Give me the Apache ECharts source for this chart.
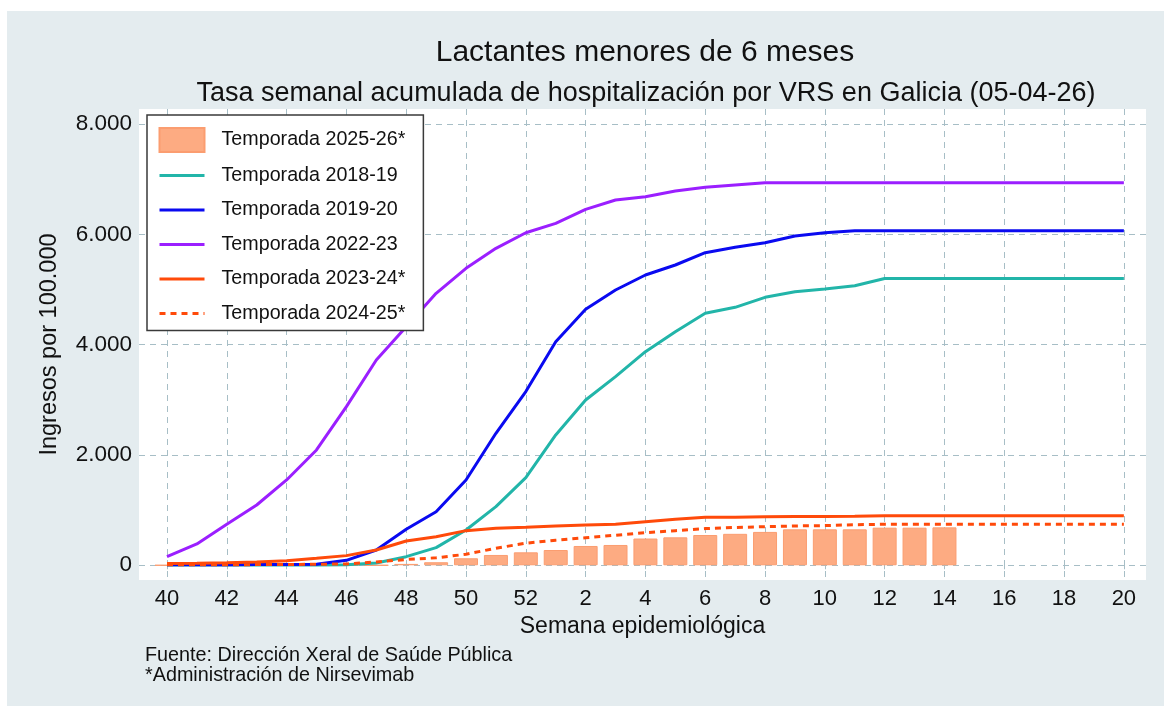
<!DOCTYPE html>
<html>
<head>
<meta charset="utf-8">
<title>Tasa semanal acumulada de hospitalización por VRS</title>
<script src="https://cdn.jsdelivr.net/npm/echarts@6/dist/echarts.min.js"></script>
<style>
  html, body { margin: 0; padding: 0; background: #fff; }
  #chart { width: 1164px; height: 706px; }
</style>
</head>
<body>
<div id="chart"></div>
<script>
// semanas epidemiológicas (40 a 52 y 1 a 20)
const semanas = [40, 41, 42, 43, 44, 45, 46, 47, 48, 49, 50, 51, 52,
  1, 2, 3, 4, 5, 6, 7, 8, 9, 10, 11, 12, 13, 14, 15, 16, 17, 18, 19, 20]
// marcas del eje x (una de cada dos semanas)
const etiquetasX = [40, 42, 44, 46, 48, 50, 52, 2, 4, 6, 8, 10, 12, 14, 16, 18, 20]
const etiquetasY = [0, 2000, 4000, 6000, 8000]

// tasas acumuladas por temporada
const t2526 = [0, 0, 0, 0, 0, 0, 0, 0, 25, 55, 127, 187, 235, 277, 350, 368, 485, 507, 549, 570,
  605, 652, 652, 652, 682, 682, 688, null, null, null, null, null, null]
const t1819 = [5, 5, 5, 5, 5, 5, 10, 40, 156, 320, 640, 1063, 1590, 2363, 2997, 3420, 3873, 4236,
  4569, 4678, 4859, 4961, 5010, 5070, 5200, 5200, 5200, 5200, 5200, 5200, 5200, 5200, 5200]
const t1920 = [10, 10, 10, 12, 15, 20, 90, 277, 652, 972, 1547, 2393, 3150, 4055, 4642, 4992,
  5264, 5445, 5668, 5766, 5850, 5971, 6031, 6067, 6067, 6067, 6067, 6067, 6067, 6067, 6067, 6067, 6067]
const t2223 = [156, 386, 743, 1093, 1547, 2091, 2876, 3723, 4327, 4932, 5385, 5748, 6030, 6201,
  6455, 6624, 6684, 6787, 6854, 6896, 6937, 6937, 6937, 6937, 6937, 6937, 6937, 6937, 6937, 6937, 6937, 6937, 6937]
const t2324 = [30, 38, 47, 60, 84, 127, 175, 277, 441, 519, 628, 670, 689, 713, 731, 743, 791, 834,
  870, 872, 882, 884, 886, 888, 898, 900, 900, 900, 900, 900, 900, 900, 900]
const t2425 = [10, 10, 10, 12, 15, 18, 25, 60, 105, 135, 200, 310, 400, 455, 500, 545, 590, 628,
  665, 685, 700, 713, 720, 735, 743, 745, 745, 745, 745, 745, 745, 745, 745]

const fuente = 'Liberation Sans, Arial, sans-serif'

// pares [índice de semana, valor]
function pares(valores) {
  return semanas.map((s, i) => [i, valores[i]])
}

function linea(nombre, valores, color, tipo) {
  return {
    name: nombre,
    type: 'line',
    data: pares(valores),
    symbol: 'none',
    lineStyle: { color: color, width: 3, type: tipo || 'solid' },
    // sin símbolo en la leyenda, solo la línea
    itemStyle: { color: color, opacity: 0 },
    z: 3
  }
}

const chart = echarts.init(document.getElementById('chart'))

const option = {
  backgroundColor: '#ffffff',
  animation: false,
  graphic: [
    {
      type: 'rect',
      z: -10,
      shape: { x: 7, y: 11, width: 1157, height: 695 },
      style: { fill: '#e4ecef' }
    }
  ],
  title: [
    {
      text: 'Lactantes menores de 6 meses',
      left: 645,
      textAlign: 'center',
      top: 38,
      padding: 0,
      textStyle: { fontFamily: fuente, fontSize: 30, fontWeight: 'normal', color: '#111' }
    },
    {
      text: 'Tasa semanal acumulada de hospitalización por VRS en Galicia (05-04-26)',
      left: 646,
      textAlign: 'center',
      top: 80,
      padding: 0,
      textStyle: { fontFamily: fuente, fontSize: 27, fontWeight: 'normal', color: '#111' }
    },
    {
      text: 'Fuente: Dirección Xeral de Saúde Pública\n*Administración de Nirsevimab',
      left: 145,
      top: 646,
      padding: 0,
      textStyle: { fontFamily: fuente, fontSize: 19.8, fontWeight: 'normal', color: '#111', lineHeight: 20 }
    }
  ],
  legend: {
    orient: 'vertical',
    left: 147,
    top: 115,
    padding: [12, 18, 5, 11],
    itemWidth: 45,
    itemHeight: 24,
    itemGap: 10.5,
    backgroundColor: '#ffffff',
    borderColor: '#3a3a3a',
    borderWidth: 1.5,
    borderRadius: 0,
    lineStyle: { width: 3 },
    textStyle: { fontFamily: fuente, fontSize: 19.7, color: '#111', lineHeight: 24, padding: [0, 0, 0, 12] },
    data: [
      { name: 'Temporada 2025-26*', icon: 'rect' },
      'Temporada 2018-19',
      'Temporada 2019-20',
      'Temporada 2022-23',
      'Temporada 2023-24*',
      'Temporada 2024-25*'
    ]
  },
  grid: {
    left: 139,
    top: 109,
    width: 1007,
    height: 471,
    show: true,
    backgroundColor: '#ffffff',
    borderWidth: 0
  },
  xAxis: {
    type: 'value',
    min: -0.936,
    max: 32.74,
    name: 'Semana epidemiológica',
    nameLocation: 'middle',
    nameGap: 33,
    nameTextStyle: { fontFamily: fuente, fontSize: 23, color: '#111' },
    axisLine: { show: false },
    axisTick: {
      show: true,
      length: 4,
      lineStyle: { color: '#a7bec6' },
      customValues: etiquetasX.map(w => semanas.indexOf(w))
    },
    axisLabel: {
      fontFamily: fuente,
      fontSize: 22,
      color: '#111',
      margin: 8,
      customValues: etiquetasX.map(w => semanas.indexOf(w)),
      formatter: v => String(semanas[Math.round(v)])
    },
    splitLine: {
      show: true,
      lineStyle: { color: '#a7bec6', type: [6, 5], width: 1 }
    }
  },
  yAxis: {
    type: 'value',
    min: -267,
    max: 8274,
    name: 'Ingresos por 100.000',
    nameLocation: 'middle',
    nameGap: 77,
    nameTextStyle: { fontFamily: fuente, fontSize: 23.5, color: '#111' },
    axisLine: { show: false },
    axisTick: {
      show: true,
      length: 4,
      lineStyle: { color: '#a7bec6' },
      customValues: etiquetasY
    },
    axisLabel: {
      fontFamily: fuente,
      fontSize: 22.5,
      color: '#111',
      margin: 7,
      customValues: etiquetasY,
      formatter: v => v.toString().replace(/\B(?=(\d{3})+(?!\d))/g, '.')
    },
    splitLine: {
      show: true,
      lineStyle: { color: '#a7bec6', type: [6, 5], width: 1 }
    }
  },
  series: [
    {
      name: 'Temporada 2025-26*',
      type: 'bar',
      data: pares(t2526),
      barWidth: 24,
      itemStyle: { color: '#fdab82', borderColor: '#fb9d70', borderWidth: 1 },
      z: 2
    },
    linea('Temporada 2018-19', t1819, '#22b5a9'),
    linea('Temporada 2019-20', t1920, '#0a0af0'),
    linea('Temporada 2022-23', t2223, '#9b1fff'),
    linea('Temporada 2023-24*', t2324, '#ff4a0a'),
    linea('Temporada 2024-25*', t2425, '#ff4a0a', [6, 5])
  ]
}

chart.setOption(option)
</script>
</body>
</html>
